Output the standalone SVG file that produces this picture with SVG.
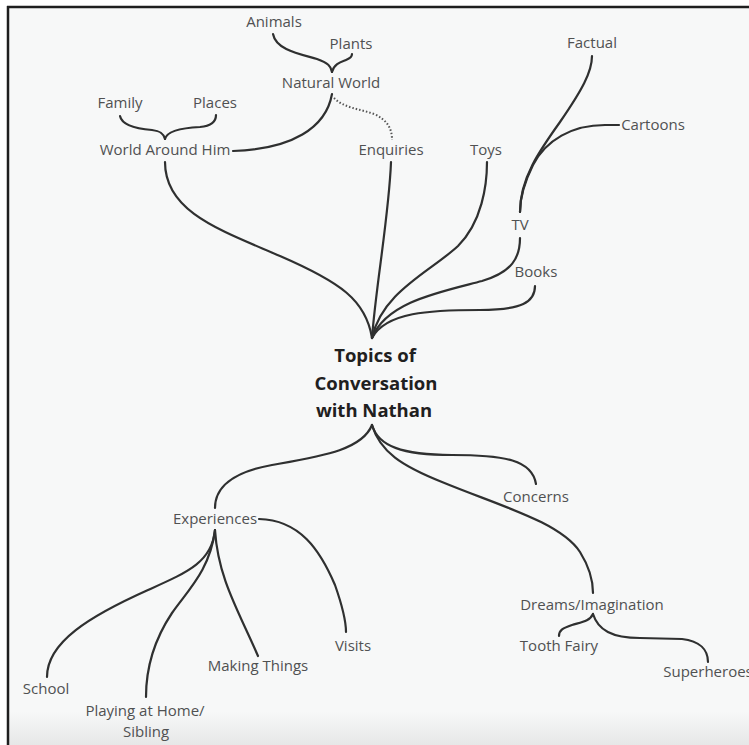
<svg xmlns="http://www.w3.org/2000/svg" width="749" height="745" viewBox="0 0 749 745">
  <defs>
    <linearGradient id="floor" x1="0" y1="0" x2="0" y2="1">
      <stop offset="0" stop-color="#f7f8f8"/>
      <stop offset="1" stop-color="#e6e7e7"/>
    </linearGradient>
    <style>
      .lbl { font-family: "Open Sans", "Noto Sans", "Liberation Sans", sans-serif; font-size: 15px; fill: #505152; text-anchor: middle; }
      .root { font-family: "Open Sans", "Noto Sans", "Liberation Sans", sans-serif; font-size: 18.5px; font-weight: bold; fill: #1f2020; text-anchor: middle; }
      .ln { fill: none; stroke: #2f3030; stroke-width: 2.2; stroke-linecap: round; }
      .dot { fill: none; stroke: #555; stroke-width: 2; stroke-dasharray: 1.5 2; }
    </style>
  </defs>

  <!-- canvas and frame -->
  <rect x="0" y="0" width="749" height="745" fill="#ffffff"/>
  <rect x="8" y="7" width="741" height="738" fill="#f7f8f8"/>
  <rect x="8" y="712" width="741" height="33" fill="url(#floor)"/>
  <line x1="7" y1="7" x2="749" y2="7" stroke="#1e1e1e" stroke-width="2.5"/>
  <line x1="8" y1="6" x2="8" y2="745" stroke="#1e1e1e" stroke-width="2.5"/>

  <!-- connectors -->
  <g id="connectors">
    <!-- root, upper branches -->
    <path class="ln" d="M372,338 C366,300 340,282 280,256 C220,230 165,212 165,162"/>
    <path class="ln" d="M372,338 C376,285 389,215 391,162"/>
    <path class="ln" d="M372,338 C382,292 430,272 458,246 C482,222 487,185 487,162"/>
    <path class="ln" d="M372,338 C386,302 440,292 482,281 C512,272 520,258 520,238"/>
    <path class="ln" d="M372,338 C386,312 430,310 480,310 C522,310 535,302 535,286"/>
    <!-- TV branches -->
    <path class="ln" d="M520,212 C520,178 540,150 560,122 C582,90 592,72 592,56"/>
    <path class="ln" d="M619,125 L605,125 C572,125 546,140 533,165 C523,185 520,198 520,212"/>
    <!-- World Around Him to Natural World -->
    <path class="ln" d="M233,151 C292,149 326,128 332,94"/>
    <path class="dot" d="M334,98 C344,108 360,109 374,114 C387,120 392,128 392,140"/>
    <!-- Natural World brace -->
    <path class="ln" d="M273,34 C276,50 300,54 317,59 C328,63 331,66 332,72"/>
    <path class="ln" d="M332,72 C334,64 341,62 346,60 C351,58 352,56 352,54"/>
    <!-- World Around Him brace -->
    <path class="ln" d="M120,116 C122,126 140,129 152,130 C161,131 164,134 165,139"/>
    <path class="ln" d="M165,139 C167,131 180,128 200,127 C212,126 216,121 216,115"/>

    <!-- root, lower branches -->
    <path class="ln" d="M372,425 C362,450 322,456 272,465 C232,472 215,488 215,508"/>
    <path class="ln" d="M372,425 C378,446 402,455 452,455 C505,455 532,460 536,484"/>
    <path class="ln" d="M372,425 C380,452 402,466 442,482 C500,506 560,522 580,552 C590,568 593,580 593,593"/>
    <!-- Experiences branches -->
    <path class="ln" d="M215,530 C212,562 188,572 148,590 C90,616 47,642 47,677"/>
    <path class="ln" d="M215,530 C210,570 188,590 172,613 C152,643 146,670 146,697"/>
    <path class="ln" d="M215,530 C218,578 238,610 258,656"/>
    <path class="ln" d="M259,519 C300,520 320,550 335,585 C342,605 346,620 346,632"/>
    <!-- Dreams brace -->
    <path class="ln" d="M593,614 C590,621 582,622 572,625 C563,628 559,630 559,636"/>
    <path class="ln" d="M593,614 C598,630 612,638 640,638 L682,639 C700,641 708,650 708,662"/>
  </g>

  <!-- nodes -->
  <g id="root">
    <text class="root" x="375" y="362">Topics of</text>
    <text class="root" x="376" y="390">Conversation</text>
    <text class="root" x="374" y="417">with Nathan</text>
  </g>
  <g id="animals"><text class="lbl" x="274" y="27">Animals</text></g>
  <g id="plants"><text class="lbl" x="351" y="49">Plants</text></g>
  <g id="natural-world"><text class="lbl" x="331" y="88">Natural World</text></g>
  <g id="family"><text class="lbl" x="120" y="108">Family</text></g>
  <g id="places"><text class="lbl" x="215" y="108">Places</text></g>
  <g id="world-around-him"><text class="lbl" x="165" y="155">World Around Him</text></g>
  <g id="enquiries"><text class="lbl" x="391" y="155">Enquiries</text></g>
  <g id="toys"><text class="lbl" x="486" y="155">Toys</text></g>
  <g id="factual"><text class="lbl" x="592" y="48">Factual</text></g>
  <g id="cartoons"><text class="lbl" x="653" y="130">Cartoons</text></g>
  <g id="tv"><text class="lbl" x="520" y="230">TV</text></g>
  <g id="books"><text class="lbl" x="536" y="277">Books</text></g>
  <g id="experiences"><text class="lbl" x="215" y="524">Experiences</text></g>
  <g id="concerns"><text class="lbl" x="536" y="502">Concerns</text></g>
  <g id="visits"><text class="lbl" x="353" y="651">Visits</text></g>
  <g id="making-things"><text class="lbl" x="258" y="671">Making Things</text></g>
  <g id="school"><text class="lbl" x="46" y="694">School</text></g>
  <g id="playing"><text class="lbl" x="145" y="716">Playing at Home/</text><text class="lbl" x="146" y="737">Sibling</text></g>
  <g id="dreams"><text class="lbl" x="592" y="610">Dreams/Imagination</text></g>
  <g id="tooth-fairy"><text class="lbl" x="559" y="651">Tooth Fairy</text></g>
  <g id="superheroes"><text class="lbl" x="708" y="677">Superheroes</text></g>
</svg>
